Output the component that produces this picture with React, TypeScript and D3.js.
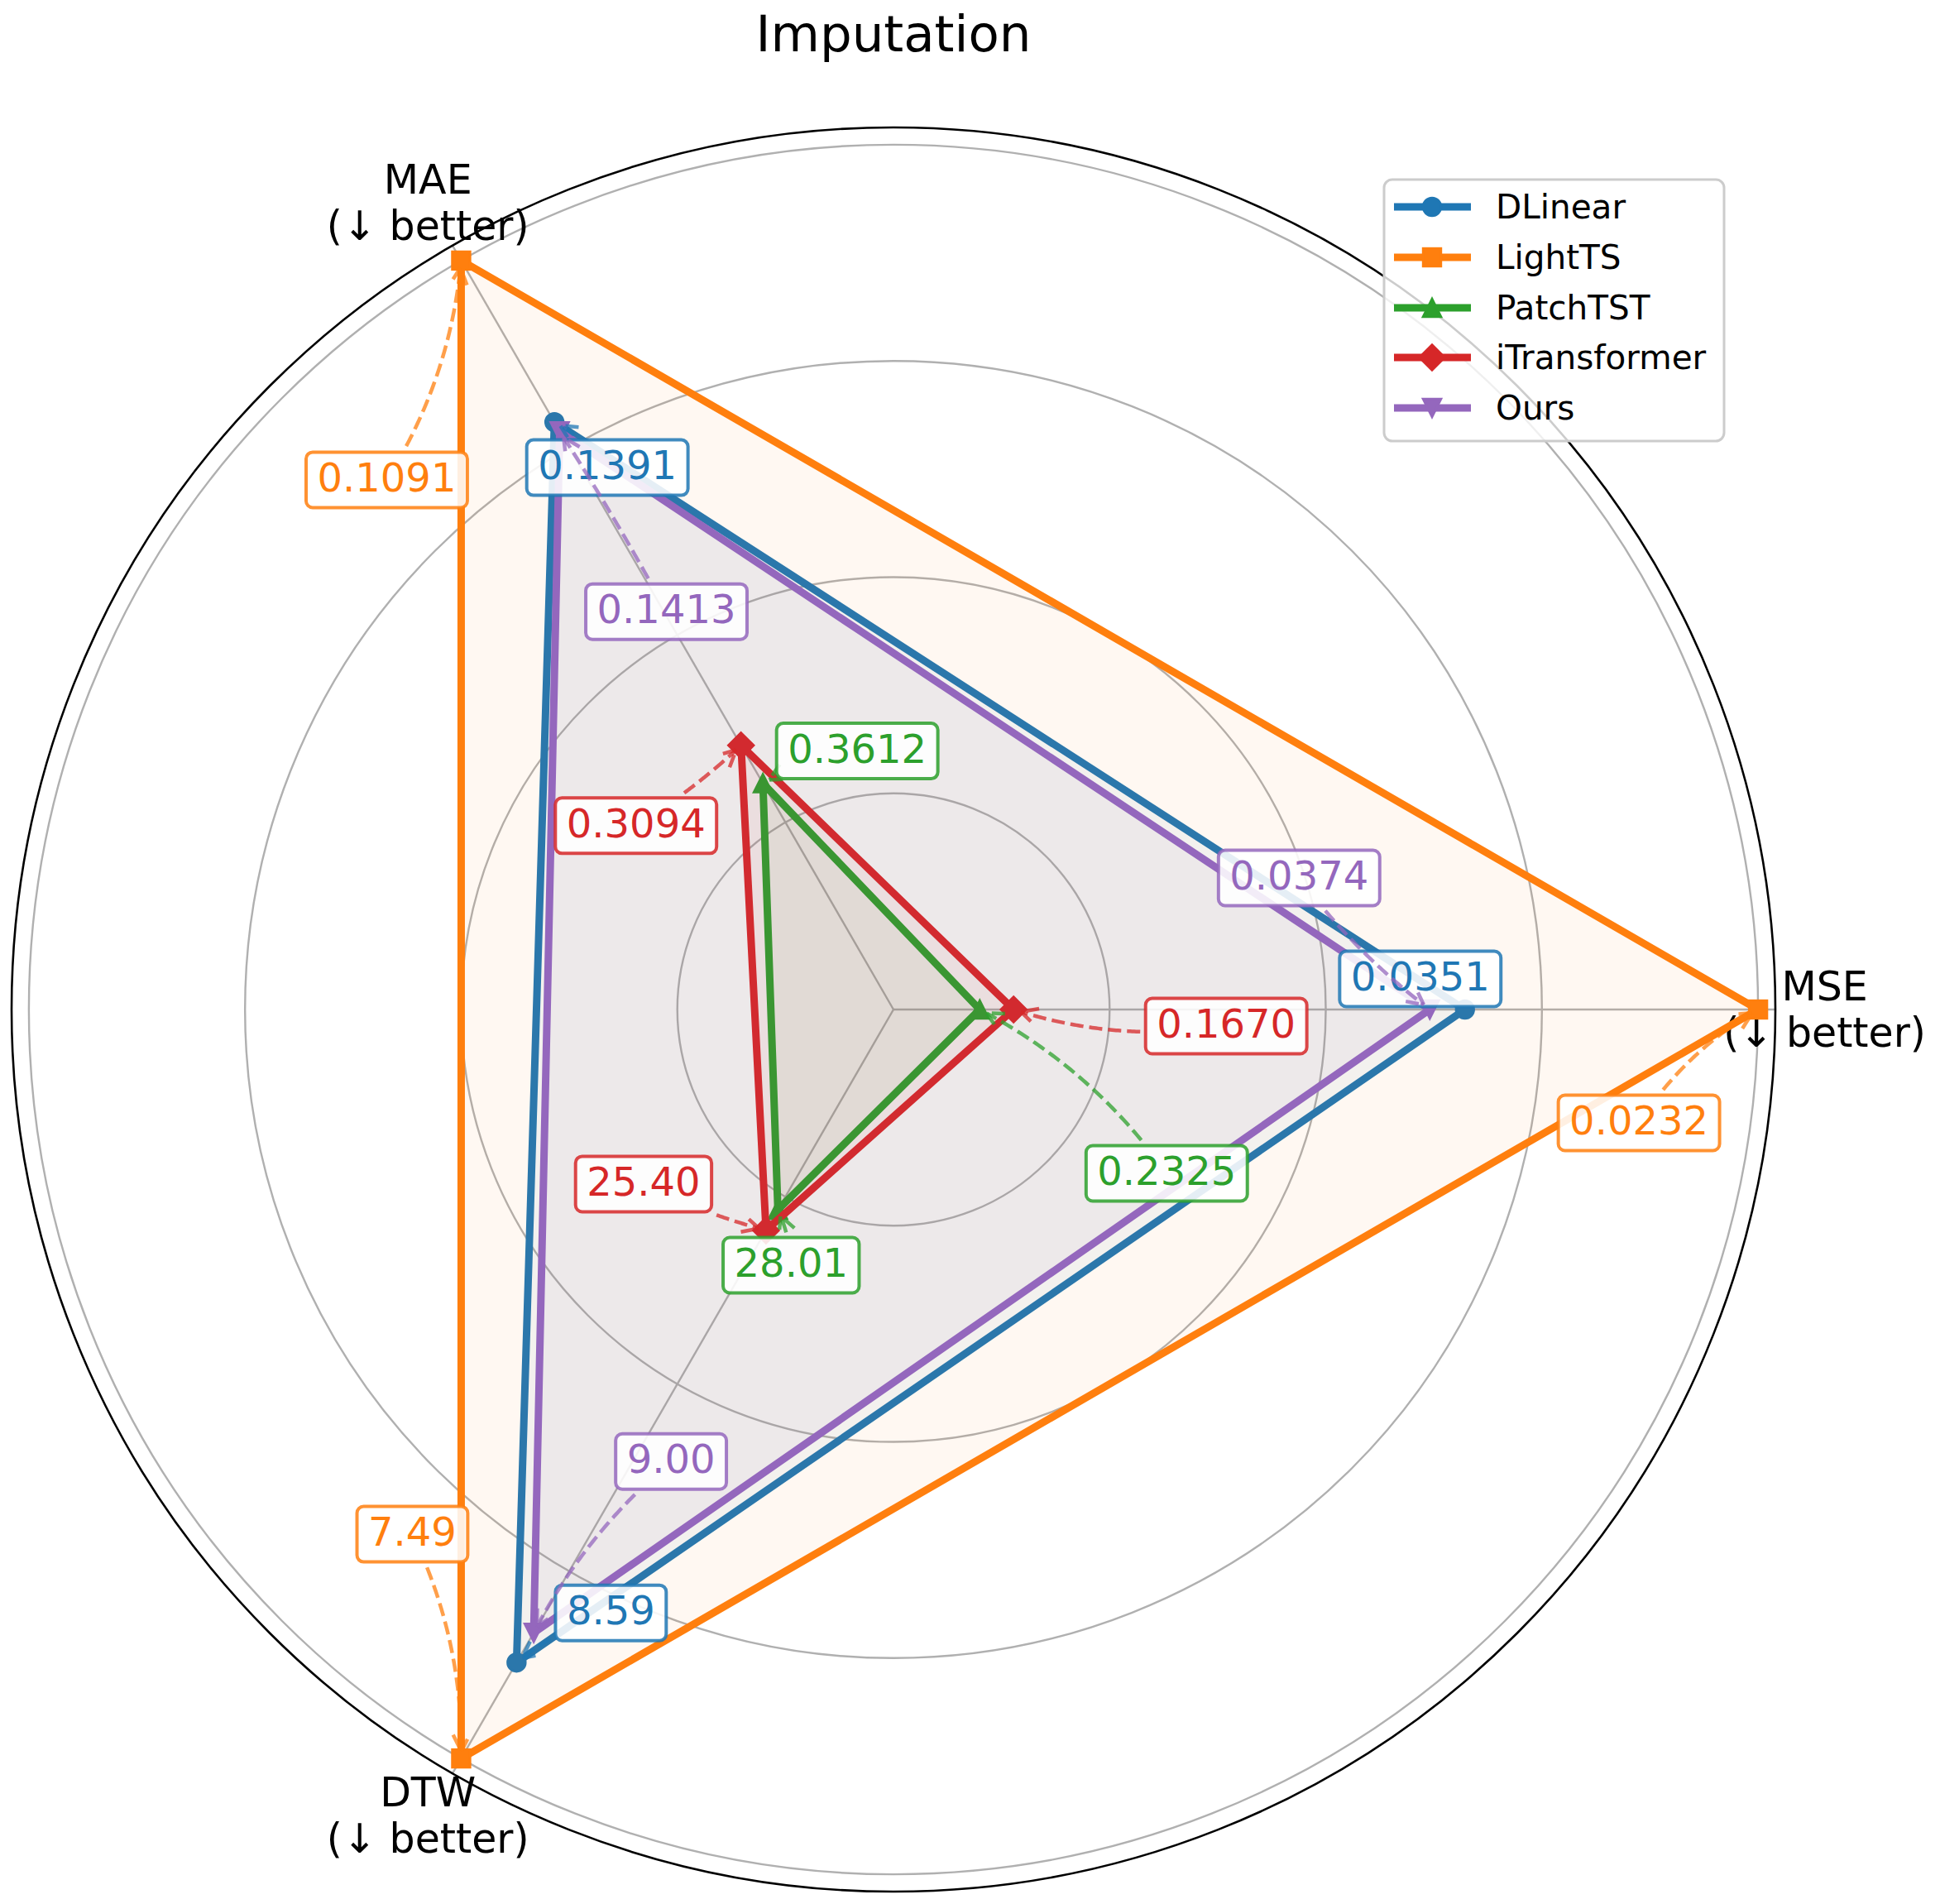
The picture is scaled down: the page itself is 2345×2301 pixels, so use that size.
import React from 'react';
import * as d3 from 'd3';

// models and raw metric values (lower is better)
const models = ['DLinear', 'LightTS', 'PatchTST', 'iTransformer', 'Ours'];
const metrics = ['MSE', 'MAE', 'DTW'];
const mseValues = [0.0351, 0.0232, 0.2325, 0.167, 0.0374];
const maeValues = [0.1391, 0.1091, 0.3612, 0.3094, 0.1413];
const dtwValues = [8.59, 7.49, 28.01, 25.4, 9.0];
const labelDecimals = [4, 4, 2];
const gridTicks = [0.25, 0.5, 0.75, 1.0];

const colors = ['#1f77b4', '#ff7f0e', '#2ca02c', '#d62728', '#9467bd'];
const markerShapes = ['circle', 'square', 'triangle', 'diamond', 'triangleDown'];

// value-label placement: [dx, dy] in px from the point, plus arc curvature
const labelOffsets: [number, number, number][][] = [
  [[-54, -37, 0.1], [64, 55, 0.1], [114, -60, 0.1]],
  [[-144, 137, -0.12], [-90, 265, 0.12], [-59, -271, -0.12]],
  [[226, 198, 0.12], [114, -39, 0.1], [16, 67, 0.1]],
  [[257, 20, -0.12], [-127, 97, 0.05], [-148, -56, 0.05]],
  [[-158, -159, 0.07], [129, 218, 0.02], [166, -207, 0.1]],
];

const W = 2345;
const H = 2301;
const cx = 1080;
const cy = 1220;
const FONT = '"DejaVu Sans", sans-serif';

const metricTable = [mseValues, maeValues, dtwValues];
const metricAngles = [0, 120, 240].map(d => (d * Math.PI) / 180);

const rScale = d3.scaleLinear().domain([0, 1.02]).range([0, 1066]);

// score = best / value, so the best model sits on the unit circle
const scores = models.map((_, m) =>
  metricTable.map(vals => (d3.min(vals) as number) / vals[m])
);

const polar = (s: number, a: number): [number, number] => [
  cx + rScale(s) * Math.cos(a),
  cy - rScale(s) * Math.sin(a),
];

const radialLine = d3
  .lineRadial<number>()
  .angle((_, i) => Math.PI / 2 - metricAngles[i])
  .radius(d => rScale(d))
  .curve(d3.curveLinearClosed);

const MS = 21.4;

function Marker({ shape, x, y, color }: { shape: string; x: number; y: number; color: string }) {
  const h = MS / 2;
  const common = { fill: color, stroke: color, strokeWidth: 3, strokeLinejoin: 'miter' as const };
  if (shape === 'circle') return <circle cx={x} cy={y} r={h} {...common} />;
  if (shape === 'square') return <rect x={x - h} y={y - h} width={MS} height={MS} {...common} />;
  let pts: [number, number][] = [];
  if (shape === 'triangle') pts = [[x, y - h], [x - h, y + h], [x + h, y + h]];
  if (shape === 'triangleDown') pts = [[x, y + h], [x - h, y - h], [x + h, y - h]];
  if (shape === 'diamond') {
    const d = MS / Math.SQRT2;
    pts = [[x, y - d], [x + d, y], [x, y + d], [x - d, y]];
  }
  return <polygon points={pts.map(p => p.join(',')).join(' ')} {...common} />;
}

const textWidth = (s: string, size: number) =>
  s.split('').reduce((w, ch) => w + (ch === '.' ? 0.318 : 0.636), 0) * size;

const LABEL_SIZE = 48;
const BOX_H = 67;

function ValueLabel({ m, j }: { m: number; j: number }) {
  const color = colors[m];
  const [px, py] = polar(scores[m][j], metricAngles[j]);
  const [ox, oy, rad] = labelOffsets[m][j];
  const lx = px + ox;
  const ly = py + oy;
  const text = metricTable[j][m].toFixed(labelDecimals[j]);
  const tw = textWidth(text, LABEL_SIZE);
  const bw = tw + 27;
  const hw = bw / 2 + 6;
  const hh = BOX_H / 2 + 6;

  // quadratic arc from label centre to the point (arc3 style)
  const ctrlX = (lx + px) / 2 - rad * (py - ly);
  const ctrlY = (ly + py) / 2 + rad * (px - lx);
  const bez = (t: number): [number, number] => [
    (1 - t) * (1 - t) * lx + 2 * t * (1 - t) * ctrlX + t * t * px,
    (1 - t) * (1 - t) * ly + 2 * t * (1 - t) * ctrlY + t * t * py,
  ];
  const steps = d3.range(0, 1.0001, 0.005);
  let t0 = 1;
  for (const t of steps) {
    const [x, y] = bez(t);
    if (Math.abs(x - lx) > hw || Math.abs(y - ly) > hh) {
      t0 = t;
      break;
    }
  }
  let t1 = 0;
  for (const t of steps) {
    const [x, y] = bez(t);
    if (Math.hypot(x - px, y - py) >= 8) t1 = t;
  }
  let arrow = null;
  if (t1 > t0) {
    const pts = d3.range(t0, t1 + 1e-9, (t1 - t0) / 60).map(bez);
    const [tx, ty] = bez(t1);
    const dx = 2 * (1 - t1) * (ctrlX - lx) + 2 * t1 * (px - ctrlX);
    const dy = 2 * (1 - t1) * (ctrlY - ly) + 2 * t1 * (py - ctrlY);
    const n = Math.hypot(dx, dy) || 1;
    const ux = dx / n;
    const uy = dy / n;
    const head: [number, number][] = [
      [tx - 20 * ux - 10 * uy, ty - 20 * uy + 10 * ux],
      [tx, ty],
      [tx - 20 * ux + 10 * uy, ty - 20 * uy - 10 * ux],
    ];
    const line = d3.line();
    arrow = (
      <g stroke={color} strokeOpacity={0.75} strokeWidth={4.5} fill="none" strokeDasharray="16 7">
        <path d={line(pts) as string} />
        <path d={line(head) as string} />
      </g>
    );
  }
  return (
    <g>
      {arrow}
      <rect
        x={lx - bw / 2}
        y={ly - BOX_H / 2}
        width={bw}
        height={BOX_H}
        rx={8}
        fill="white"
        fillOpacity={0.88}
        stroke={color}
        strokeOpacity={0.85}
        strokeWidth={4}
      />
      <text x={lx} y={ly + 14} textAnchor="middle" fontSize={LABEL_SIZE} fill={color} fontFamily={FONT}>
        {text}
      </text>
    </g>
  );
}

const legendRows = [250, 311, 372, 432, 493];

export default function App() {
  const outer = rScale(1.02);
  const labelR = 1.077;
  return (
    <svg
      width={W}
      height={H}
      viewBox={`0 0 ${W} ${H}`}
      style={{ position: 'absolute', left: 0, top: 0, background: 'white' }}
    >
      <rect width={W} height={H} fill="white" />
      <text x={cx} y={62} textAnchor="middle" fontSize={61} fontFamily={FONT} fill="#000">
        Imputation
      </text>

      {/* polar grid */}
      <g fill="none" stroke="#b0b0b0" strokeWidth={2.4}>
        {gridTicks.map(t => (
          <circle key={t} cx={cx} cy={cy} r={rScale(t)} />
        ))}
        {metricAngles.map((a, i) => {
          const [x, y] = polar(1.02, a);
          return <line key={i} x1={cx} y1={cy} x2={x} y2={y} />;
        })}
      </g>
      <circle cx={cx} cy={cy} r={outer} fill="none" stroke="#000" strokeWidth={2.6} />

      {/* axis labels */}
      {metrics.map((name, i) => {
        const [x, y] = polar(labelR, metricAngles[i]);
        return (
          <text key={name} textAnchor="middle" fontSize={49} fontFamily={FONT} fill="#000">
            <tspan x={x} y={y - 28} dominantBaseline="central">
              {name}
            </tspan>
            <tspan x={x} y={y + 28} dominantBaseline="central">
              (↓ better)
            </tspan>
          </text>
        );
      })}

      {/* series */}
      {models.map((name, m) => (
        <g key={name}>
          <path
            d={radialLine(scores[m]) as string}
            transform={`translate(${cx},${cy})`}
            fill={colors[m]}
            fillOpacity={0.055}
            stroke="none"
          />
          <path
            d={radialLine(scores[m]) as string}
            transform={`translate(${cx},${cy})`}
            fill="none"
            stroke={colors[m]}
            strokeWidth={9}
            strokeLinejoin="round"
          />
          {scores[m].map((s, j) => {
            const [x, y] = polar(s, metricAngles[j]);
            return <Marker key={j} shape={markerShapes[m]} x={x} y={y} color={colors[m]} />;
          })}
        </g>
      ))}

      {/* value labels */}
      {models.map((name, m) => (
        <g key={name}>
          {metrics.map((_, j) => (
            <ValueLabel key={j} m={m} j={j} />
          ))}
        </g>
      ))}

      {/* legend */}
      <g>
        <rect
          x={1673}
          y={217}
          width={411}
          height={316}
          rx={10}
          fill="white"
          fillOpacity={0.8}
          stroke="#cccccc"
          strokeWidth={3}
        />
        {models.map((name, m) => (
          <g key={name}>
            <line x1={1685} x2={1778} y1={legendRows[m]} y2={legendRows[m]} stroke={colors[m]} strokeWidth={9} />
            <Marker shape={markerShapes[m]} x={1731} y={legendRows[m]} color={colors[m]} />
            <text x={1808} y={legendRows[m]} dominantBaseline="central" fontSize={40.5} fontFamily={FONT} fill="#000">
              {name}
            </text>
          </g>
        ))}
      </g>
    </svg>
  );
}
